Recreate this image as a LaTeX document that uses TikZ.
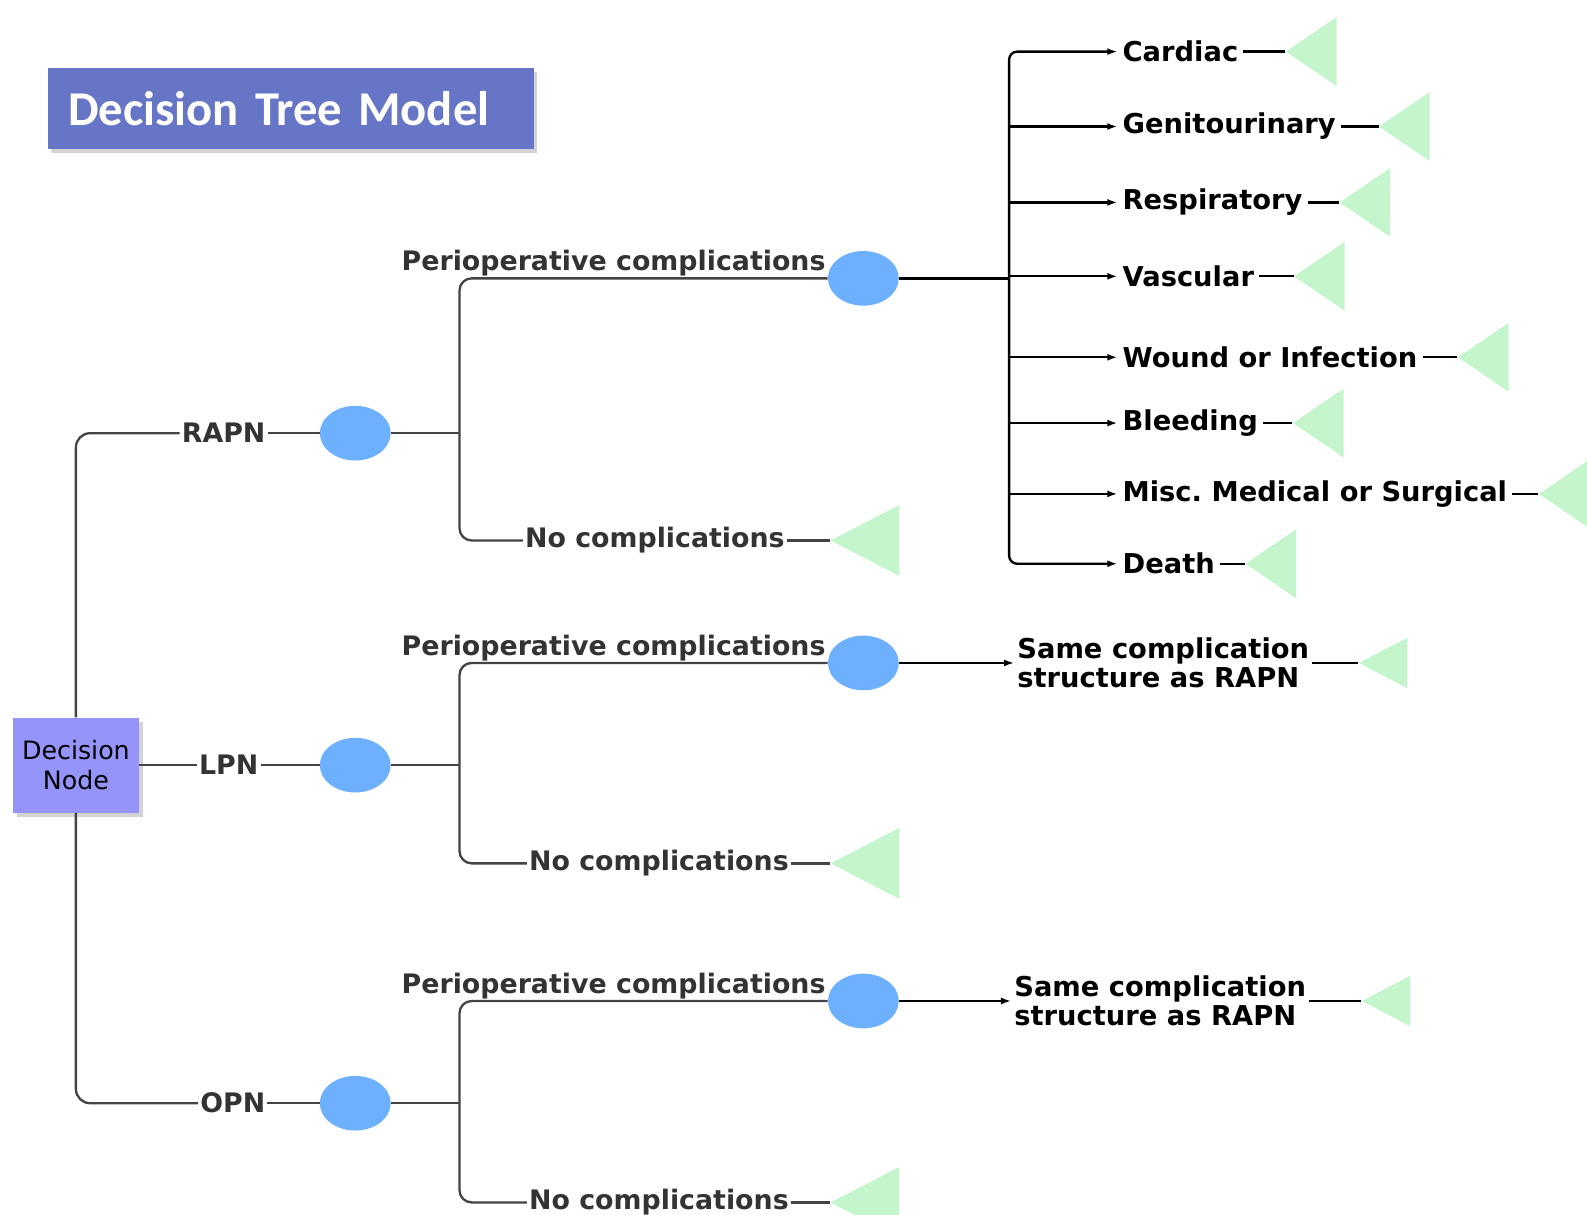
\documentclass[tikz,border=0pt]{standalone}
\usepackage{fontspec}
\setmainfont{DejaVu Sans}
\newfontfamily\titlefont{Carlito}
\usetikzlibrary{arrows.meta,shapes.geometric,shadows}
\definecolor{titleblue}{RGB}{103,117,199}
\definecolor{decisionpurple}{RGB}{148,148,251}
\definecolor{chanceblue}{RGB}{108,176,255}
\definecolor{termgreen}{RGB}{197,245,204}
\definecolor{treegray}{RGB}{68,68,68}
\definecolor{labelgray}{RGB}{51,51,51}

\begin{document}
\frenchspacing
\begin{tikzpicture}[
  x=1pt,y=-1pt,
  >={Latex[length=10pt,width=7pt]},
  title box/.style={rectangle,anchor=north west,fill=titleblue,text=white,
    font=\titlefont\bfseries\fontsize{48}{54}\selectfont,
    minimum width=480pt,minimum height=80pt,inner xsep=20pt,text width=440pt,align=left,
    drop shadow={shadow xshift=3pt,shadow yshift=-4pt,opacity=0.35}},
  decision node/.style={rectangle,fill=decisionpurple,minimum width=124pt,minimum height=94pt,
    inner sep=0pt,align=center,font=\fontsize{25}{29}\selectfont,
    drop shadow={shadow xshift=4pt,shadow yshift=-4pt,opacity=0.35}},
  chance node/.style={ellipse,fill=chanceblue,minimum width=70pt,minimum height=54pt,inner sep=0pt},
  terminal/.style={isosceles triangle,shape border rotate=180,isosceles triangle stretches,
    fill=termgreen,inner sep=0pt,anchor=apex},
  big terminal/.style={terminal,minimum width=70pt,minimum height=68pt},
  outcome terminal/.style={terminal,minimum width=68pt,minimum height=50pt},
  same terminal/.style={terminal,minimum width=50pt,minimum height=48pt},
  branch label/.style={font=\bfseries\fontsize{26.5}{29}\selectfont,text=labelgray,fill=white,inner sep=2pt},
  outcome label/.style={font=\bfseries\fontsize{27}{29}\selectfont,text=black,inner sep=5pt,anchor=west},
  tree line/.style={draw=treegray,line width=2.3pt},
  outcome line/.style={draw=black,line width=2.3pt},
]
\useasboundingbox (0,0) rectangle (1568,1200);
% title
\node[title box] (title) at (47,67) {Decision Tree Model};
% decision node and first level
\node[decision node] (dn) at (75,756) {Decision\\Node};
\node[branch label] (rapnlbl) at (221,428) {RAPN};
\node[branch label] (lpnlbl) at (226,756) {LPN};
\node[branch label] (opnlbl) at (230,1090) {OPN};
\node[chance node] (rapn) at (351,428) {};
\node[chance node] (lpn) at (351,756) {};
\node[chance node] (opn) at (351,1090) {};
\coordinate (s1) at (454,428);
\coordinate (s2) at (454,756);
\coordinate (s3) at (454,1090);
% second level
\node[chance node] (pc1) at (853,275) {};
\node[chance node] (pc2) at (853,655) {};
\node[chance node] (pc3) at (853,989) {};
\node[branch label,anchor=south east,fill=none] (pl1) at (pc1.west) {Perioperative complications};
\node[branch label,anchor=south east,fill=none] (pl2) at (pc2.west) {Perioperative complications};
\node[branch label,anchor=south east,fill=none] (pl3) at (pc3.west) {Perioperative complications};
\node[branch label] (nc1) at (647,534) {No complications};
\node[branch label] (nc2) at (651,853) {No complications};
\node[branch label] (nc3) at (651,1188) {No complications};
\node[big terminal] (tn1) at (820,534) {};
\node[big terminal] (tn2) at (820,853) {};
\node[big terminal] (tn3) at (820,1188) {};
% complication outcomes of RAPN
\coordinate (bar) at (997,275);
\node[outcome label] (cardiac) at (1104,51) {Cardiac};
\node[outcome label] (genito) at (1104,125) {Genitourinary};
\node[outcome label] (resp) at (1104,200) {Respiratory};
\node[outcome label] (vasc) at (1104,273) {Vascular};
\node[outcome label] (wound) at (1104,353) {Wound or Infection};
\node[outcome label] (bleed) at (1104,418) {Bleeding};
\node[outcome label] (misc) at (1104,488) {Misc. Medical or Surgical};
\node[outcome label] (death) at (1104,557) {Death};
\node[outcome terminal] (tcardiac) at (1270,51) {};
\node[outcome terminal] (tgenito) at (1362,125) {};
\node[outcome terminal] (tresp) at (1323,200) {};
\node[outcome terminal] (tvasc) at (1278,273) {};
\node[outcome terminal] (twound) at (1440,353) {};
\node[outcome terminal] (tbleed) at (1277,418) {};
\node[outcome terminal] (tmisc) at (1520,488) {};
\node[outcome terminal] (tdeath) at (1230,557) {};
% same structure for LPN and OPN
\node[outcome label,align=left,inner sep=3pt] (same2) at (1002,655) {Same complication\\structure as RAPN};
\node[outcome label,align=left,inner sep=3pt] (same3) at (999,989) {Same complication\\structure as RAPN};
\node[same terminal] (tsame2) at (1342,655) {};
\node[same terminal] (tsame3) at (1345,989) {};

\draw[tree line,rounded corners=14pt] (dn.north) |- (rapnlbl.west);
\draw[tree line] (dn.east) -- (lpnlbl.west);
\draw[tree line,rounded corners=14pt] (dn.south) |- (opnlbl.west);
\draw[tree line] (rapnlbl.east) -- (rapn.west);
\draw[tree line] (lpnlbl.east) -- (lpn.west);
\draw[tree line] (opnlbl.east) -- (opn.west);
\foreach \i in {1,2,3} {
  \draw[tree line,rounded corners=12pt] (s\i) |- (pc\i.west);
  \draw[tree line,rounded corners=12pt] (s\i) |- (nc\i.west);
  \draw[tree line] (nc\i.east) -- (tn\i.apex);
}
\draw[tree line] (rapn.east) -- (s1);
\draw[tree line] (lpn.east) -- (s2);
\draw[tree line] (opn.east) -- (s3);

\draw[outcome line] (pc1.east) -- (bar);
\draw[outcome line,->,rounded corners=8pt] (bar) |- (cardiac.west);
\draw[outcome line,->,rounded corners=8pt] (bar) |- (death.west);
\foreach \o in {genito,resp,vasc,wound,bleed,misc}
  \draw[outcome line,->] (bar |- \o.west) -- (\o.west);
\foreach \o in {cardiac,genito,resp,vasc,wound,bleed,misc,death}
  \draw[outcome line] (\o.east) -- (t\o.apex);

\draw[outcome line,->] (pc2.east) -- (same2.west);
\draw[outcome line,->] (pc3.east) -- (same3.west);
\draw[outcome line] (same2.east) -- (tsame2.apex);
\draw[outcome line] (same3.east) -- (tsame3.apex);
\end{tikzpicture}
\end{document}
